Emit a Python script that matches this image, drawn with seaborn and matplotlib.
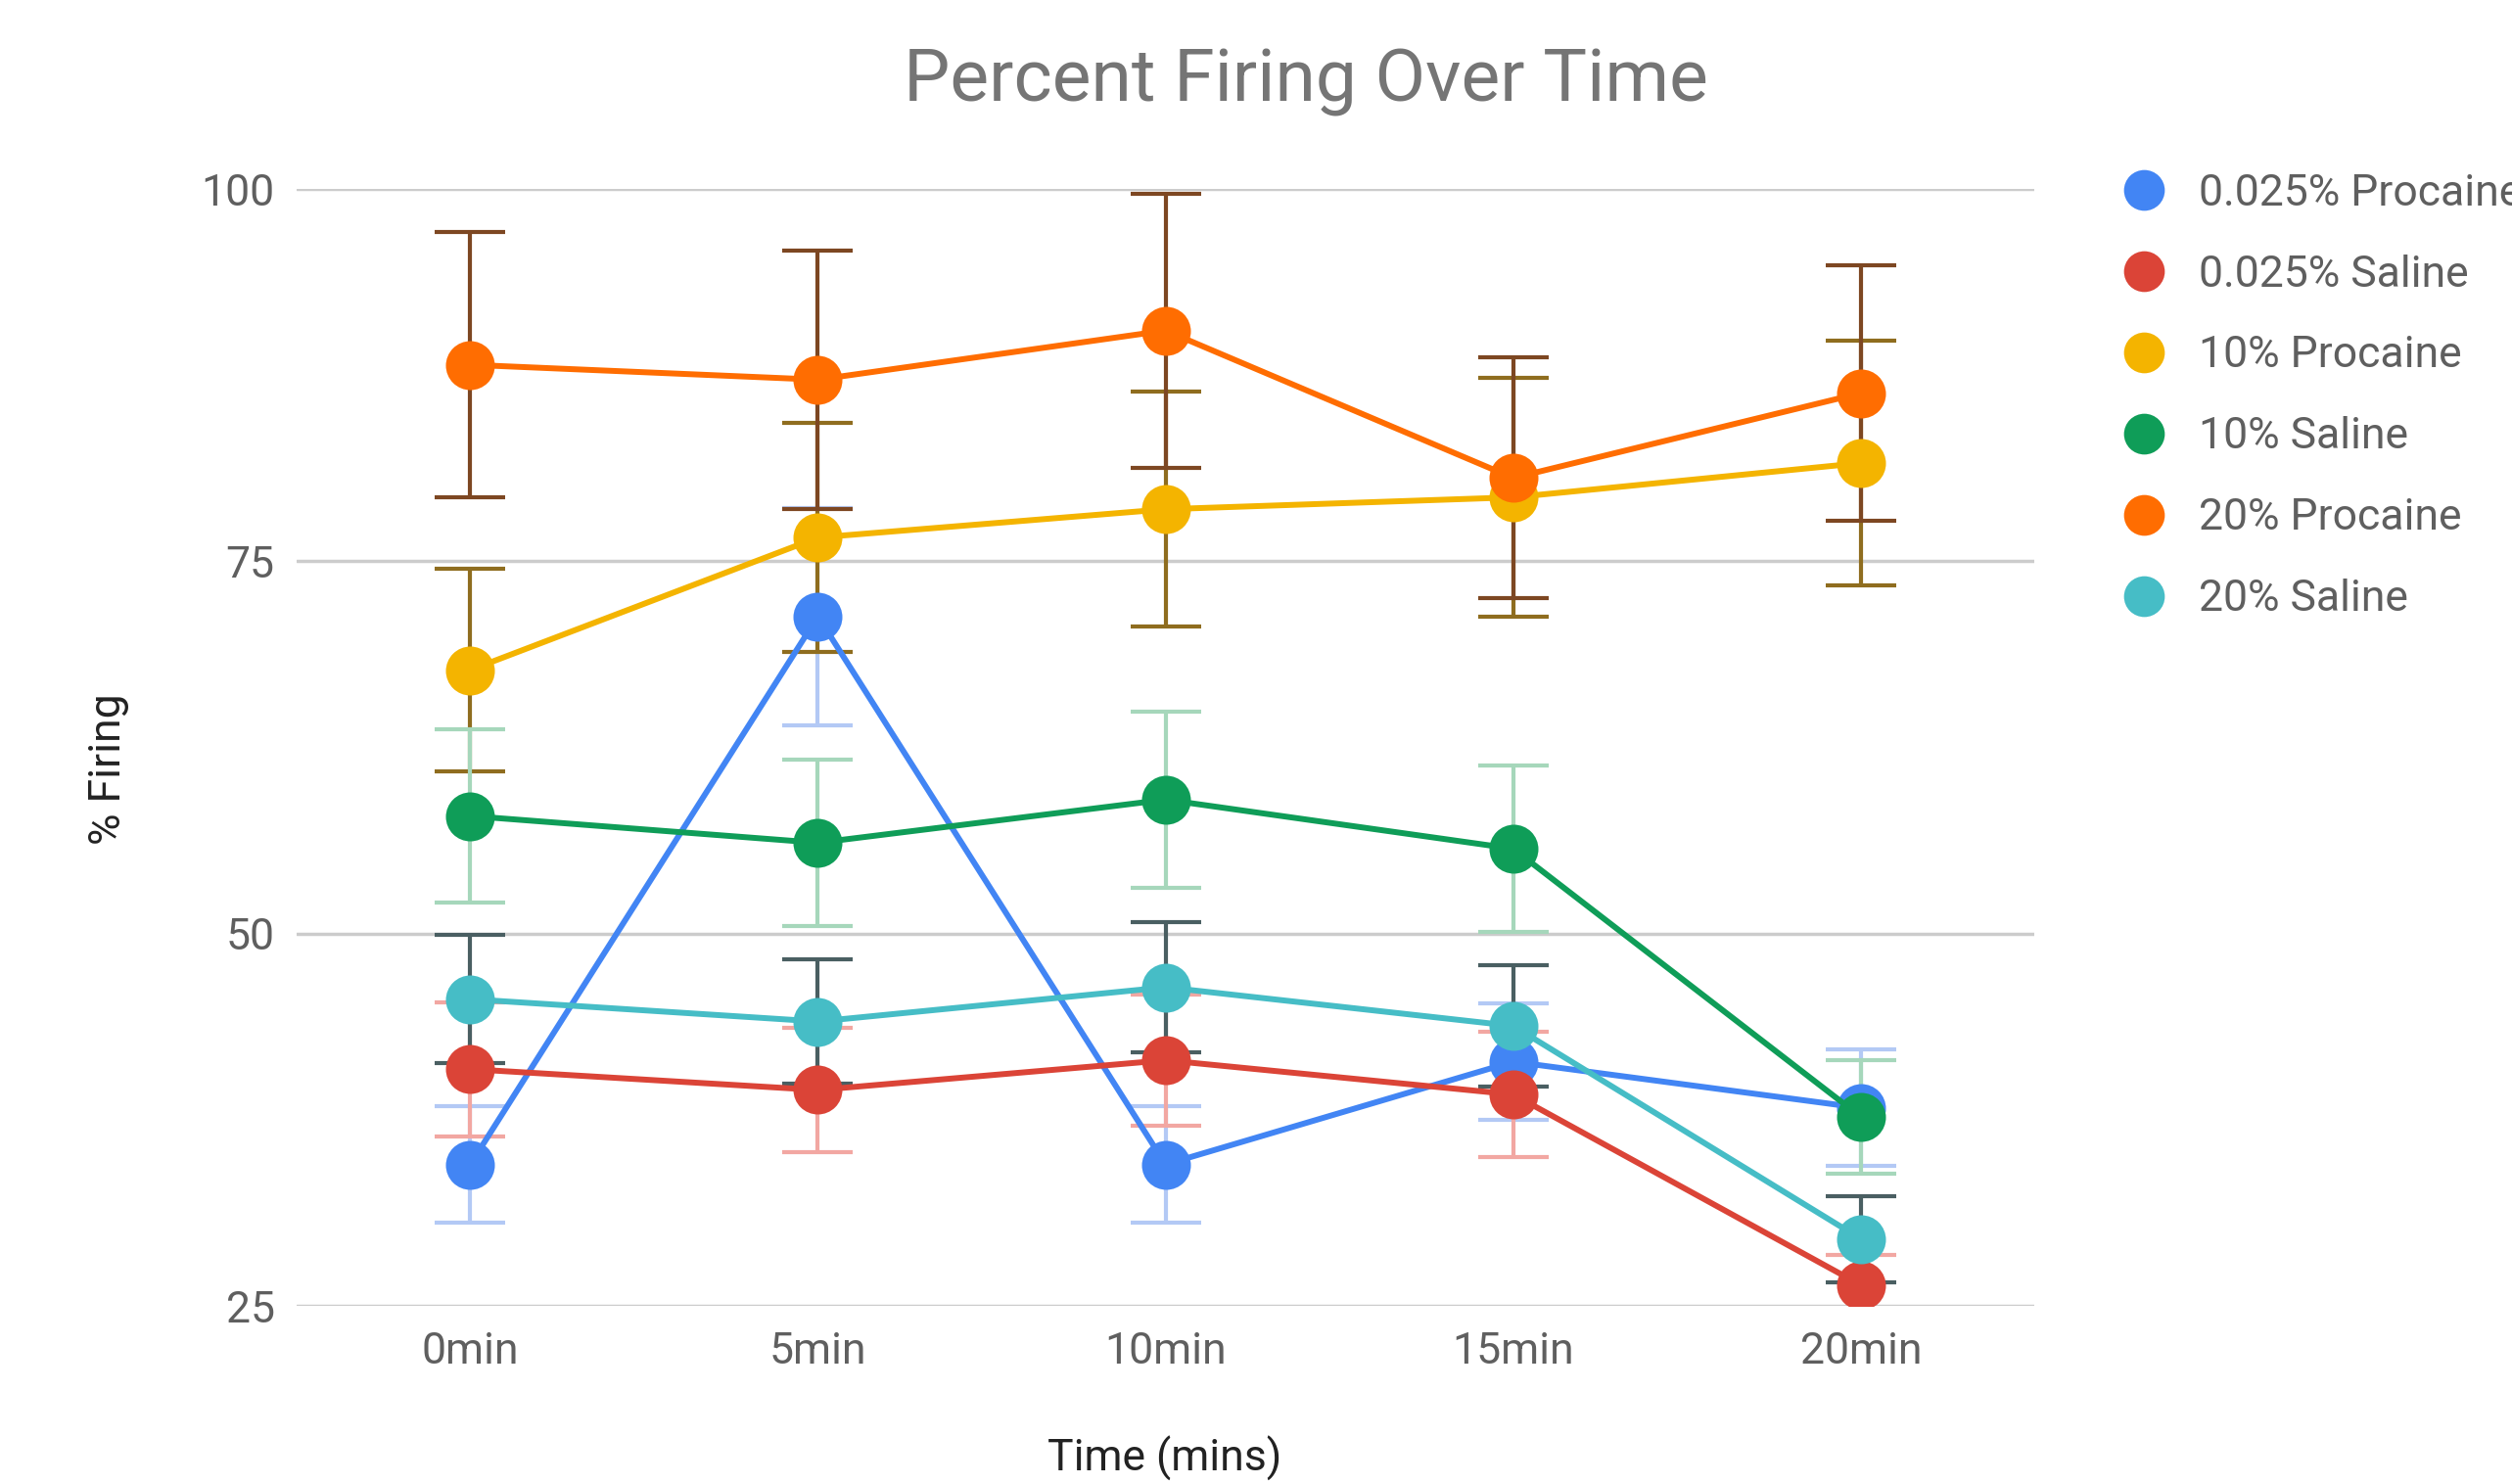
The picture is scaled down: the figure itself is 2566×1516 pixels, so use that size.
import matplotlib
matplotlib.use('Agg')
import pandas as pd
import matplotlib.pyplot as plt
from matplotlib.lines import Line2D
import seaborn as sns

# data
minutes = [0, 5, 10, 15, 20]
time_labels = ['0min', '5min', '10min', '15min', '20min']
groups = ['0.025% Procaine', '0.025% Saline', '10% Procaine',
          '10% Saline', '20% Procaine', '20% Saline']

procaine_0025 = [34.5, 71.3, 34.5, 41.4, 38.3]
saline_0025 = [40.9, 39.5, 41.5, 39.2, 26.4]
procaine_10 = [67.7, 76.6, 78.5, 79.3, 81.6]
saline_10 = [57.9, 56.1, 59.0, 55.7, 37.7]
procaine_20 = [88.2, 87.2, 90.5, 80.6, 86.3]
saline_20 = [45.6, 44.1, 46.4, 43.8, 29.5]

err_procaine_0025 = [3.9, 7.3, 3.9, 3.9, 3.9]
err_saline_0025 = [4.5, 4.2, 4.4, 4.2, 2.0]
err_procaine_10 = [6.8, 7.7, 7.9, 8.0, 8.2]
err_saline_10 = [5.8, 5.6, 5.9, 5.6, 3.8]
err_procaine_20 = [8.9, 8.7, 9.2, 8.1, 8.6]
err_saline_20 = [4.3, 4.2, 4.4, 4.1, 2.9]

colors = ['#4285F4', '#DB4437', '#F4B400', '#0F9D58', '#FF6D01', '#46BDC6']
err_colors = ['#b3c9f5', '#f2a7a2', '#8f6d1f', '#a6d7bb', '#7d4722', '#4a5f62']

values = [procaine_0025, saline_0025, procaine_10, saline_10, procaine_20, saline_20]
errors = [err_procaine_0025, err_saline_0025, err_procaine_10,
          err_saline_10, err_procaine_20, err_saline_20]

rows = []
for g, vals in zip(groups, values):
    for m, v in zip(minutes, vals):
        rows.append({'minute': m, 'firing': v, 'group': g})
df = pd.DataFrame(rows)

sns.set_theme(style='white')
plt.rcParams['font.family'] = ['Roboto', 'DejaVu Sans']

fig = plt.figure(figsize=(25.66, 15.16), dpi=100)
ax = fig.add_axes([0.118, 0.12, 0.692, 0.7526])

# error bars under the lines
for vals, errs, ec in zip(values, errors, err_colors):
    ax.errorbar(minutes, vals, yerr=errs, fmt='none', ecolor=ec,
                elinewidth=3, capsize=26, capthick=3, zorder=2)

sns.lineplot(data=df, x='minute', y='firing', hue='group', hue_order=groups,
             palette=colors, marker='o', markersize=36, markeredgewidth=0,
             linewidth=4.3, legend=False, ax=ax, zorder=3)

ax.set_xlim(-2.5, 22.5)
ax.set_ylim(25, 100)
ax.set_yticks([25, 50, 75, 100])
ax.set_xticks(minutes)
ax.set_xticklabels(time_labels)
ax.yaxis.grid(True, color='#cccccc', linewidth=2.5)
ax.xaxis.grid(False)
for s in ax.spines.values():
    s.set_visible(False)
ax.tick_params(axis='both', length=0, labelsize=32, labelcolor='#5f5f5f')
ax.tick_params(axis='y', pad=16)
ax.tick_params(axis='x', pad=19)
ax.set_xlabel('')
ax.set_ylabel('')

fig.text(0.52, 0.945, 'Percent Firing Over Time', ha='center', va='center',
         fontsize=54, color='#757575')
fig.text(0.4636, 0.017, 'Time (mins)', ha='center', va='center',
         fontsize=32, color='#222222')
fig.text(0.0434, 0.482, '% Firing', ha='center', va='center', rotation=90,
         fontsize=32, color='#222222')

handles = [Line2D([], [], marker='o', linestyle='', color=c, markersize=30,
                  markeredgewidth=0) for c in colors]
fig.legend(handles, groups, loc='upper left', bbox_to_anchor=(0.845, 0.8835),
           frameon=False, fontsize=32, labelcolor='#5f5f5f', handlelength=1.0,
           handletextpad=0.75, labelspacing=0.92, borderpad=0, borderaxespad=0)

fig.savefig('out.png', dpi=100)
